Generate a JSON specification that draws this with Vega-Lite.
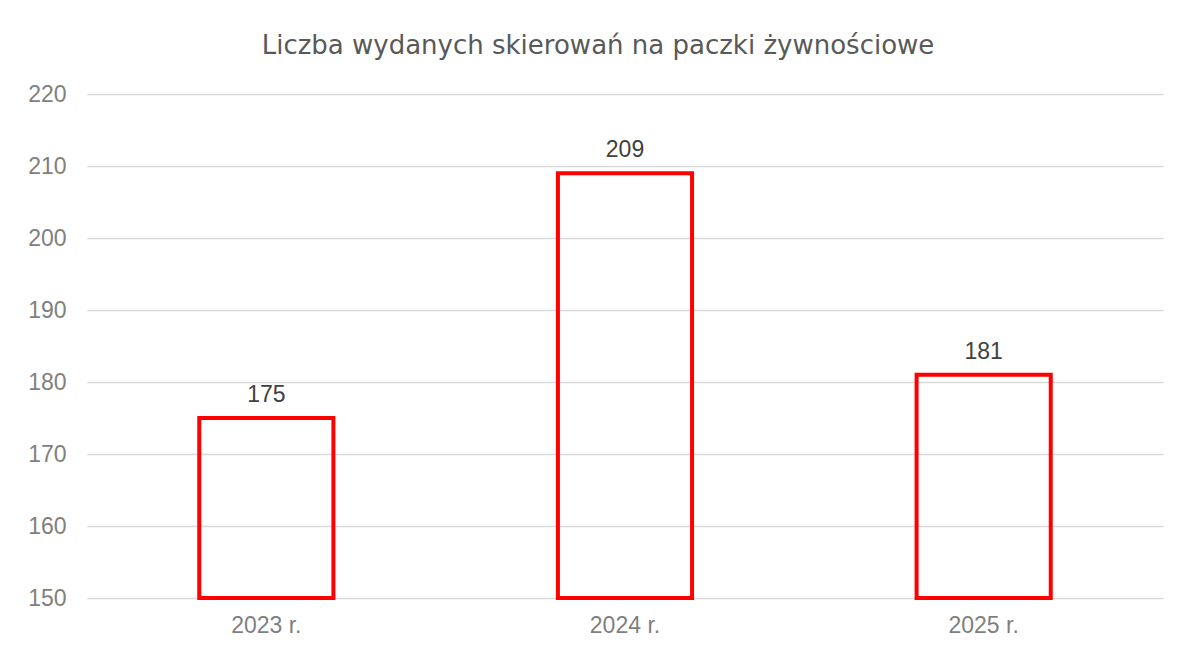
{
  "$schema": "https://vega.github.io/schema/vega-lite/v6.json",
  "autosize": "none",
  "width": 1076,
  "height": 504,
  "padding": {"left": 87, "top": 94, "right": 24, "bottom": 52},
  "background": "white",
  "title": {
    "text": "Liczba wydanych skierowań na paczki żywnościowe",
    "anchor": "middle",
    "frame": "group",
    "dx": -27,
    "fontSize": 26,
    "fontWeight": "normal",
    "font": "DejaVu Sans",
    "color": "#595959",
    "offset": 24
  },
  "config": {
    "view": {"stroke": null},
    "font": "Liberation Sans"
  },
  "data": {
    "values": [
      {"rok": "2023 r.", "liczba": 175},
      {"rok": "2024 r.", "liczba": 209},
      {"rok": "2025 r.", "liczba": 181}
    ]
  },
  "encoding": {
    "x": {
      "field": "rok",
      "type": "nominal",
      "sort": null,
      "scale": {"paddingInner": 0.626, "paddingOuter": 0.313},
      "axis": {
        "title": null,
        "labelAngle": 0,
        "domain": false,
        "ticks": false,
        "tickSize": 0,
        "labelPadding": 16,
        "labelFontSize": 23,
        "labelColor": "#7f7f7f",
        "grid": false
      }
    },
    "y": {
      "field": "liczba",
      "type": "quantitative",
      "scale": {"domain": [150, 220], "nice": false, "zero": false},
      "axis": {
        "title": null,
        "values": [150, 160, 170, 180, 190, 200, 210, 220],
        "domain": false,
        "ticks": false,
        "tickSize": 0,
        "labelPadding": 21,
        "labelFontSize": 23,
        "labelColor": "#7f7f7f",
        "grid": true,
        "gridColor": "#d9d9d9",
        "gridWidth": 1.5
      }
    }
  },
  "layer": [
    {
      "mark": {"type": "bar", "fill": null, "fillOpacity": 0, "stroke": "#ff0000", "strokeWidth": 4},
      "encoding": {"y2": {"datum": 150}}
    },
    {
      "mark": {"type": "text", "baseline": "alphabetic", "dy": -16, "fontSize": 23, "color": "#404040"},
      "encoding": {"text": {"field": "liczba", "type": "quantitative"}}
    }
  ]
}
